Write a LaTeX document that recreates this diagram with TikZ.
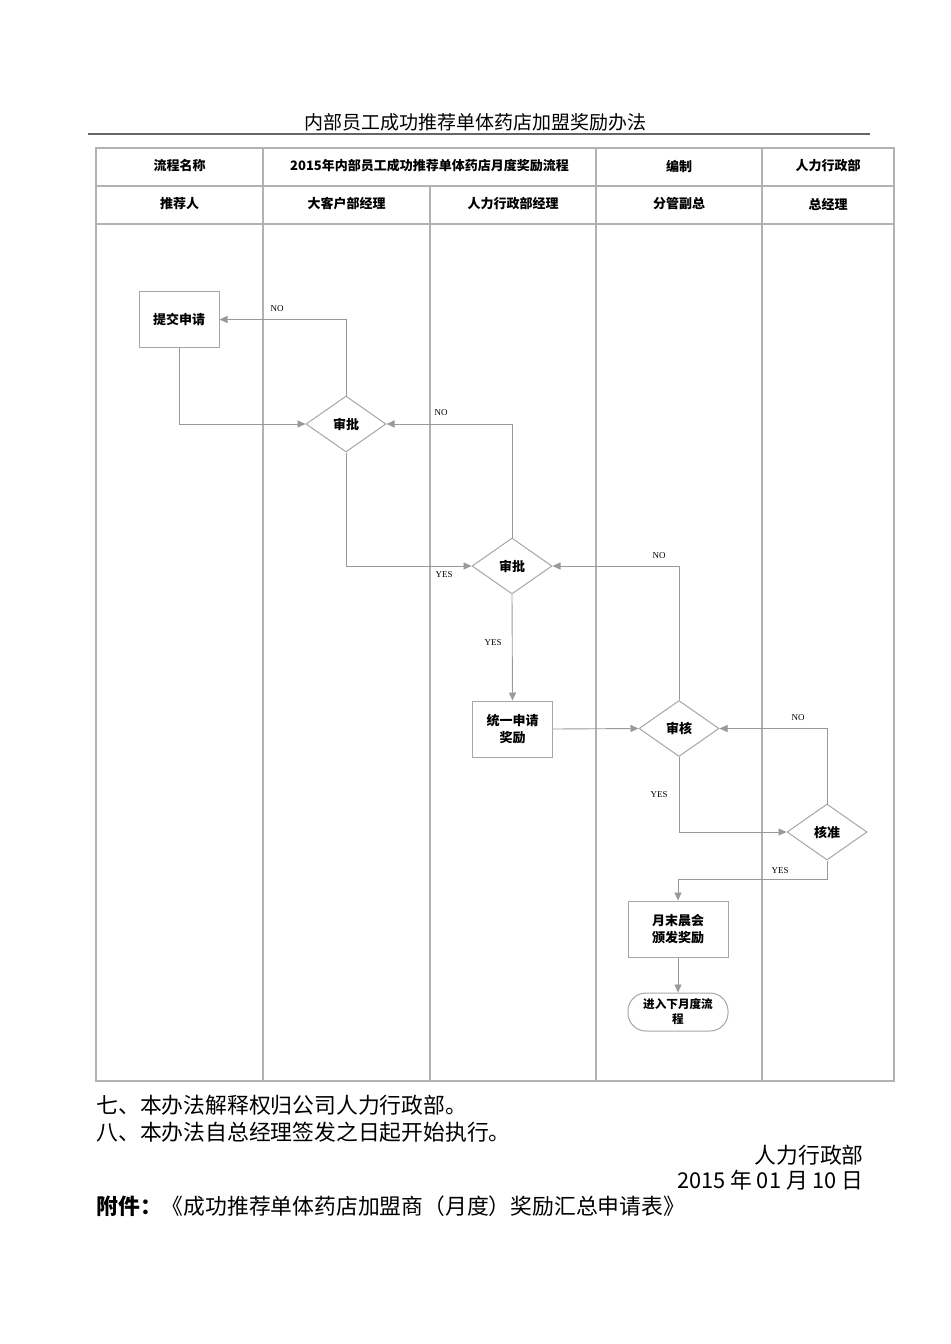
\documentclass[tikz,border=0pt]{standalone}
\usepackage{fontspec}
\setmainfont{Noto Sans CJK SC}
\newfontfamily\latinfont{Liberation Serif}
\usetikzlibrary{shapes.geometric,arrows.meta}
\tikzset{
	grid/.style={draw=black!30, line width=0.7pt},
	act/.style={draw=black!35, line width=0.5pt, minimum width=40pt, minimum height=28pt, inner sep=1pt, align=center, font=\fontsize{6.5}{8.5}\selectfont\bfseries},
	dec/.style={draw=black!35, line width=0.5pt, diamond, minimum width=40pt, minimum height=28pt, inner sep=0pt, font=\fontsize{6.5}{8.5}\selectfont\bfseries},
	flow/.style={draw=black!40, line width=0.45pt, -{Triangle[length=4pt,width=3.5pt]}},
	tag/.style={font=\latinfont\fontsize{4.5}{5}\selectfont},
	head/.style={font=\fontsize{6.5}{8}\selectfont\bfseries},
	body/.style={font=\fontsize{10.9}{12}\selectfont, inner sep=0pt}
}
\begin{document}
\begin{tikzpicture}[x=0.5pt, y=-0.5pt]
	\useasboundingbox (0,0) rectangle (950,1344);
	% title and rule
	\node [font=\fontsize{9.5}{11}\selectfont] (title) at (475,122) {内部员工成功推荐单体药店加盟奖励办法};
	\draw [black!60, line width=0.6pt] (88,134) -- (870,134);
	% table
	\draw [grid] (96,148) rectangle (894,1081);
	\draw [grid] (96,186) -- (894,186) (96,224) -- (894,224);
	\draw [grid] (263,148) -- (263,1081) (596,148) -- (596,1081) (762,148) -- (762,1081);
	\draw [grid] (430,186) -- (430,1081);
	\node [head] (h1) at (179.5,166) {流程名称};
	\node [head] (h2) at (429.5,166) {2015年内部员工成功推荐单体药店月度奖励流程};
	\node [head] (h3) at (679,166) {编制};
	\node [head] (h4) at (828,166) {人力行政部};
	\node [head] (l1) at (179.5,204) {推荐人};
	\node [head] (l2) at (346.5,204) {大客户部经理};
	\node [head] (l3) at (513,204) {人力行政部经理};
	\node [head] (l4) at (679,204) {分管副总};
	\node [head] (l5) at (828,204) {总经理};
	% flow
	\node [act] (submit) at (179,319.5) {提交申请};
	\node [dec] (appr1) at (346,424) {审批};
	\node [dec] (appr2) at (512,566) {审批};
	\node [act] (apply) at (512.5,729) {统一申请\\奖励};
	\node [dec] (review) at (679,728.5) {审核};
	\node [dec] (confirm) at (827,832) {核准};
	\node [act, minimum width=50pt] (award) at (678,929) {月末晨会\\颁发奖励};
	\node [act, minimum width=50pt, minimum height=19pt, rounded corners=9pt, font=\fontsize{5.8}{7.5}\selectfont\bfseries] (next) at (678,1012) {进入下月度流\\程};
	\draw [flow] (submit.south) |- (appr1.west);
	\draw [flow] (appr1.north) |- (submit.east);
	\draw [flow] (appr1.south) |- (appr2.west);
	\draw [flow] (appr2.north) |- (appr1.east);
	\draw [flow] (appr2.south) -- (apply.north);
	\draw [flow] (apply.east) -- (review.west);
	\draw [flow] (review.north) |- (appr2.east);
	\draw [flow] (review.south) |- (confirm.west);
	\draw [flow] (confirm.north) |- (review.east);
	\draw [flow] (confirm.south) -- ++(0,19) -| (award.north);
	\draw [flow] (award.south) -- (next.north);
	\node [tag] (no1) at (277,309) {NO};
	\node [tag] (no2) at (441,413) {NO};
	\node [tag] (yes1) at (444,575) {YES};
	\node [tag] (yes2) at (493,643) {YES};
	\node [tag] (no3) at (659,556) {NO};
	\node [tag] (yes3) at (659,795) {YES};
	\node [tag] (no4) at (798,718) {NO};
	\node [tag] (yes4) at (780,871) {YES};
	% closing text
	\node [body, anchor=west] (t7) at (96,1105) {七、本办法解释权归公司人力行政部。};
	\node [body, anchor=west] (t8) at (96,1132) {八、本办法自总经理签发之日起开始执行。};
	\node [body, anchor=east] (dept) at (864,1155) {人力行政部};
	\node [body, anchor=east] (date) at (864,1180) {2015 年 01 月 10 日};
	\node [body, anchor=west] (att) at (96,1206) {\textbf{附件：}《成功推荐单体药店加盟商（月度）奖励汇总申请表》};
\end{tikzpicture}
\end{document}
